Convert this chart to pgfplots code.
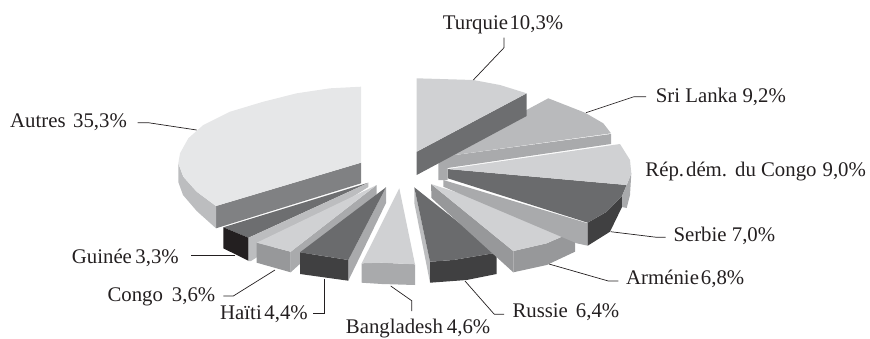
\documentclass[border=0pt]{standalone}
\usepackage{fontspec}
\setmainfont{Liberation Serif}
\usepackage{pgfplots}
\pgfplotsset{compat=1.18}
\definecolor{paleTop}{HTML}{E6E7E8}
\definecolor{lightTop}{HTML}{D0D1D3}
\definecolor{silverTop}{HTML}{B9BABC}
\definecolor{darkTop}{HTML}{6A6B6D}
\definecolor{stripLight}{HTML}{BCBDBF}
\definecolor{stripMid}{HTML}{A9AAAC}
\definecolor{faceMid}{HTML}{97989A}
\definecolor{faceGrey}{HTML}{808183}
\definecolor{faceDark}{HTML}{6D6E70}
\definecolor{faceDeep}{HTML}{404041}
\definecolor{faceBlack}{HTML}{231F20}
\newcommand{\facet}[2]{\addplot[fill=#1,draw=none,mark=none,forget plot] coordinates {#2};}
\newcommand{\leader}[1]{\addplot[draw=faceBlack,line width=0.7pt,mark=none,forget plot] coordinates {#1};}
\newcommand{\lab}[3]{\node[anchor=base west,inner sep=0pt,text=faceBlack,font=\fontsize{20.8}{24}\selectfont] at (axis cs:#1,#2) {#3};}
\begin{document}
\begin{tikzpicture}
\begin{axis}[
  scale only axis, width=870pt, height=338pt,
  xmin=0, xmax=870, ymin=0, ymax=338, y dir=reverse,
  hide axis, clip=false]
% Page frame: an undrawn diagonal that keeps the full extent in the bounding box
\addplot[draw=none,mark=none,forget plot] coordinates {(0,0)(870,338)};
% Autres
\facet{faceGrey}{(216,206)(361,162.7)(361,183.3)(216,228.3)}
\facet{stripLight}{(178.3,163.3)(178.3,182)(183,195)(196.7,211)(216,228.3)(216,206)(196.7,191.7)(183.3,176.7)}
\facet{paleTop}{(361,86.7)(330,88.3)(296.7,93.3)(263.3,101.7)(230,111.7)(203.3,125)(188.3,138.3)(180,153.3)(178.3,163.3)(183.3,176.7)(196.7,191.7)(216,206)(361,162.7)}
% Guinée
\facet{stripLight}{(248.3,238)(368.3,183)(368.3,187)(251,261)(248.3,261)}
\facet{faceDark}{(223.3,227.3)(368.3,182.7)(248.3,237.7)}
\facet{faceBlack}{(223.3,227.3)(248.3,237.7)(248.3,260.7)(223.3,248.3)}
% Congo
\facet{stripMid}{(290.7,251.7)(376.7,185)(376.7,194)(290.7,272.3)}
\facet{faceMid}{(256.7,242.7)(290.7,251.7)(290.7,272.3)(256.7,262.7)}
\facet{lightTop}{(376.7,185)(256.7,242.7)(290.7,251.7)}
% Haïti
\facet{stripMid}{(348.3,260)(386,187.3)(386,203)(348.3,280.7)}
\facet{faceDeep}{(300,252.3)(348.3,260)(348.3,280.7)(300,274)}
\facet{darkTop}{(386,187.3)(300,252.3)(348.3,260)}
% Bangladesh
\facet{stripMid}{(361.7,263.3)(381.7,262.7)(415,264.3)(415,285)(381.7,284)(361.7,282.7)}
\facet{lightTop}{(399.3,188.3)(361.7,263.3)(381.7,262.7)(415,264.3)}
% Russie
\facet{stripLight}{(414.3,187.3)(414.3,203)(430,282.7)(430,261.7)}
\facet{faceDeep}{(430,261.7)(453.3,260)(496.7,252.7)(496.7,274)(466.7,280)(430,282.7)}
\facet{darkTop}{(414.3,187.3)(430,261.7)(453.3,260)(496.7,252.7)}
% Arménie
\facet{faceMid}{(431,184)(513.3,251)(513.3,272.3)(431.5,198)}
\facet{faceMid}{(513.3,251)(546.7,243.3)(575,231)(575,251.7)(546.7,265)(513.3,272.3)}
\facet{lightTop}{(431,184)(513.3,251)(546.7,243.3)(575,231)}
% Serbie
\facet{stripMid}{(443.3,180)(587.7,223.3)(587.7,245.7)(576.7,243.3)(443.3,186.7)}
\facet{faceDeep}{(587.7,222.7)(606.7,211.7)(622,196)(622,207)(610,231.7)(587.7,245.7)}
\facet{darkTop}{(447.7,169)(626.7,185)(622,196)(606.7,211.7)(587.7,222.7)(447.7,178.3)}
% Rép. dém. du Congo
\facet{stripMid}{(626.7,185)(631.3,173.3)(630,195)(626.7,208)(622,207)(622,196)}
\facet{lightTop}{(447.7,169)(620,144)(630,160)(631.3,173.3)(626.7,185)}
% Sri Lanka
\facet{stripMid}{(438.3,157.3)(611,134)(611,144)(447.7,168)(447.7,180)(438.3,180)}
\facet{silverTop}{(438.3,157.3)(548.3,98.3)(585,112.7)(603.3,123.3)(611,133.3)}
% Turquie
\facet{faceDark}{(416.7,151.7)(526.7,93.3)(526.7,116)(416.7,175)}
\facet{lightTop}{(416.7,78.3)(473.3,80)(500,85)(526.7,93.3)(416.7,151.7)}
% Leader lines
\leader{(473.3,80)(504,47.7)(504,37.7)}
\leader{(586,112.7)(634,96.7)(646,96.7)}
\leader{(610.7,231.7)(656.7,237.3)(665.7,237.3)}
\leader{(549,264)(608.3,281)(618.3,281)}
\leader{(465,281)(494.3,314.3)(504,314.3)}
\leader{(390.7,286)(411.7,300.7)(411.7,311)}
\leader{(324,279)(324,313.3)(312.7,313.3)}
\leader{(275,270)(233.3,296)(223.3,296)}
\leader{(235,255.7)(190.7,255.7)}
\leader{(196.7,130)(148.3,122.7)(137.7,122.7)}
% Labels
\lab{442.7}{29}{Turquie\hspace{1.5pt}10,3\%}
\lab{655.7}{102.3}{Sri Lanka 9,2\%}
\lab{645.2}{176}{Rép.\hspace{2pt}dém.\hspace{8pt}du Congo\hspace{6pt}9,0\%}
\lab{673.3}{241.7}{Serbie 7,0\%}
\lab{626}{284}{Arménie\hspace{2pt}6,8\%}
\lab{512.3}{317.7}{Russie\hspace{8pt}6,4\%}
\lab{345.7}{333.5}{Bangladesh\hspace{4pt}4,6\%}
\lab{220}{319}{Haïti\hspace{2.7pt}4,4\%}
\lab{107.3}{301.7}{Congo\hspace{9pt}3,6\%}
\lab{71.7}{263.3}{Guinée\hspace{3.5pt}3,3\%}
\lab{10}{127.7}{Autres\hspace{7.5pt}35,3\%}
\end{axis}
\end{tikzpicture}
\end{document}
